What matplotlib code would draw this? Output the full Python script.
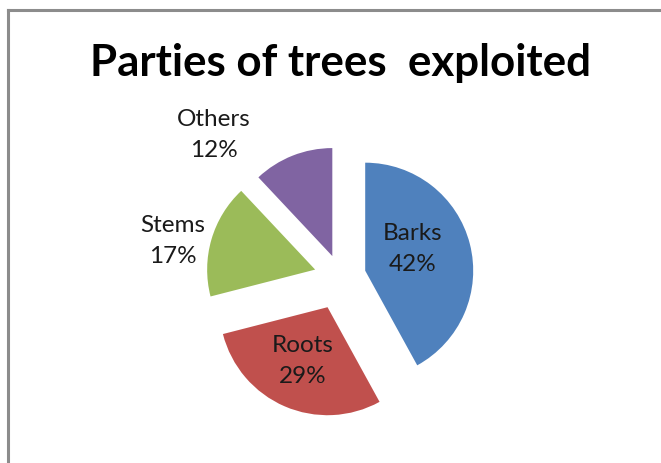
import matplotlib
matplotlib.use("Agg")
import matplotlib.pyplot as plt
from matplotlib.lines import Line2D

# Data
categories = ["Barks", "Roots", "Stems", "Others"]
shares = [42, 29, 17, 12]
colors = ["#4F81BD", "#C0504D", "#9BBB59", "#8064A2"]
# slice offsets from the pie centre, in pixels
explode = [25.4, 32.9, 26.5, 22.5]
title = "Parties of trees  exploited"

W, H = 661, 464
fig = plt.figure(figsize=(W / 100, H / 100), dpi=100)
ax = fig.add_axes([0, 0, 1, 1])

radius = 108
center = (340.6, H - 278.0)
wedges, _ = ax.pie(shares, radius=radius, center=center, startangle=90,
                   counterclock=False, colors=colors, explode=explode,
                   wedgeprops=dict(linewidth=0), frame=True)
ax.set_xlim(0, W)
ax.set_ylim(0, H)
ax.set_aspect("equal")
ax.axis("off")

# Chart-area border (top and left edges visible)
ax.add_line(Line2D([8, 8], [0, H - 11], color="#8c8c8c", lw=2.2))
ax.add_line(Line2D([8, W], [H - 11, H - 11], color="#8c8c8c", lw=2.2))

font = "Lato"
ax.text(340, H - 63, title, ha="center", va="center", fontsize=31.6,
        fontweight="bold", family=font, color="black")

label_pos = {
    "Barks": (413, 249),
    "Roots": (303, 361),
    "Stems": (173, 241),
    "Others": (214, 135),
}
for cat, val in zip(categories, shares):
    x, y = label_pos[cat]
    ax.text(x, H - y, f"{cat}\n{val}%", ha="center", va="center",
            fontsize=17.5, family=font, color="#1a1a1a", linespacing=1.55)

fig.savefig("out.png", dpi=100)
